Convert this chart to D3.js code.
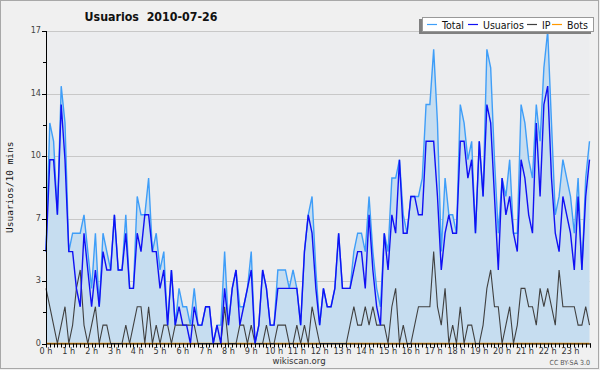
<!DOCTYPE html>
<html>
<head>
<meta charset="utf-8">
<script src="https://cdn.jsdelivr.net/npm/d3@7"></script>
<style>
  body { margin: 0; background: #f0f0f0; }
  svg { display: block; }
</style>
</head>
<body>
<div id="chart"></div>
<script>
// values per 10 minutes, 144 slots (0 h .. 23 h 50)
let total = [5,12,11,7,14,12,5,6,6,6, 7,5,3,6,2,6,5,4,7,4, 4,7,3,3,8,7,7,9,5,6,
             4,5,1,4,1,3,2,2,1,3, 1,1,2,2,0,1,1,5,1,3, 4,2,2,3,5,0,1,4,3,1,
             1,4,4,4,3,4,3,1,5,7, 8,4,1,3,2,2,3,6,3,3, 3,5,6,6,5,8,5,3,2,6,
             5,9,9,10,7,6,8,8,8,9, 13,13,16,12,5,9,7,7,6,13, 12,10,11,6,11,8,16,15,10,6,
             9,8,10,6,6,13,12,10,9,13, 11,15,17,12,7,8,10,9,8,6, 9,4,9,11]
let usuarios = [5,10,10,7,13,10,5,5,3,2, 6,4,2,4,2,5,4,4,7,4, 4,6,3,3,6,5,7,7,5,5,
                3,4,1,4,1,2,1,1,0,2, 1,1,2,2,0,1,0,3,1,3, 4,1,2,3,4,0,1,4,3,1,
                1,3,3,3,3,3,3,1,5,7, 6,3,1,3,2,2,3,6,3,3, 3,4,5,5,3,7,4,2,1,6,
                4,7,6,10,6,6,8,8,7,7, 11,11,11,8,4,6,7,6,6,11, 11,9,10,6,11,8,13,12,8,4,
                9,7,8,6,5,10,9,7,6,12, 8,13,14,9,6,5,8,7,6,4, 8,4,8,10]
let ip = [3,2,1,0,1,2,0,1,3,4, 1,0,1,2,0,1,1,0,0,0, 0,1,0,1,2,2,0,2,0,1,
          0,1,1,0,1,1,1,1,1,1, 0,0,0,0,0,0,0,2,0,0, 0,1,1,0,1,0,0,0,1,0,
          0,1,1,1,0,0,1,0,1,0, 2,1,0,0,0,0,0,0,0,0, 1,2,1,1,2,1,2,1,1,1,
          0,2,3,0,1,0,0,1,2,2, 2,2,5,2,1,3,0,1,0,2, 0,1,1,0,0,1,3,4,2,2,
          0,1,2,0,1,3,3,2,2,1, 3,2,3,2,1,4,2,2,2,2, 1,1,2,1]
let bots = total.map(() => 0)

let hourLabels = d3.range(24).map(h => h + ' h')
let yTicks = [0, 3.4, 6.8, 10.2, 13.6, 17]
let yTickLabels = ['0', '3', '7', '10', '14', '17']
let seriesNames = ['Total', 'Usuarios', 'IP', 'Bots']
let seriesColors = ['#3f9ef8', '#1010f4', '#404040', '#ff9900']

function makeChart(){
    let width = 600, height = 370
    let left = 46, right = 589.5, top = 31, bottom = 343.5

    let svg = d3.select('#chart')
                .append('svg')
                    .attr('width', width)
                    .attr('height', height)
                    .style('font-family', '"DejaVu Sans Condensed", "DejaVu Sans", sans-serif')

    // frame
    svg.append('rect')
        .attr('x', 0.5).attr('y', 0.5)
        .attr('width', 598).attr('height', 368)
        .attr('fill', '#f0f0f0')
        .attr('stroke', '#a8a8a8')

    svg.append('rect')
        .attr('x', left).attr('y', top)
        .attr('width', right - left).attr('height', bottom - top)
        .attr('fill', '#ecedef')

    let x = d3.scaleLinear().domain([0, total.length - 1]).range([left, right])
    let y = d3.scaleLinear().domain([0, 17]).range([bottom, top])

    // grid
    svg.append('g')
        .selectAll('line')
        .data(yTicks.slice(1))
        .enter()
        .append('line')
        .attr('x1', left).attr('x2', right)
        .attr('y1', d => Math.round(y(d)) + 0.5)
        .attr('y2', d => Math.round(y(d)) + 0.5)
        .attr('stroke', '#c8c8c8')

    // area under Total
    svg.append('path')
        .datum(total)
        .attr('fill', '#c6ddf0')
        .attr('d', d3.area().x((d, i) => x(i)).y0(bottom).y1(d => y(d)))

    let line = d3.line().x((d, i) => x(i)).y(d => y(d))
    let series = [total, usuarios, ip, bots]
    // draw order: bots, ip, total, usuarios
    ;[3, 2, 0, 1].forEach(k => {
        svg.append('path')
            .datum(series[k])
            .attr('fill', 'none')
            .attr('stroke', seriesColors[k])
            .attr('stroke-width', k == 2 ? 1.1 : 1.4)
            .attr('stroke-linejoin', 'miter')
            .attr('d', line)
    })

    // y axis
    let yAxis = svg.append('g').attr('transform', `translate(${left},0)`)
    yAxis.append('line')
        .attr('x1', 0.5).attr('x2', 0.5)
        .attr('y1', top).attr('y2', bottom + 1)
        .attr('stroke', '#000')
    let yMinor = d3.range(5).map(k => yTicks[k] + 1.7)
    yAxis.selectAll('.major')
        .data(yTicks)
        .enter()
        .append('line')
        .attr('x1', -4).attr('x2', 0.5)
        .attr('y1', d => Math.round(y(d)) + 0.5)
        .attr('y2', d => Math.round(y(d)) + 0.5)
        .attr('stroke', '#000')
    yAxis.selectAll('.minor')
        .data(yMinor)
        .enter()
        .append('line')
        .attr('x1', -3).attr('x2', 0.5)
        .attr('y1', d => Math.round(y(d)) + 0.5)
        .attr('y2', d => Math.round(y(d)) + 0.5)
        .attr('stroke', '#000')
    yAxis.selectAll('text')
        .data(yTicks)
        .enter()
        .append('text')
        .attr('x', -5)
        .attr('y', d => y(d) + 2)
        .attr('text-anchor', 'end')
        .attr('font-size', 9)
        .attr('fill', '#444')
        .text((d, i) => yTickLabels[i])

    svg.append('text')
        .attr('transform', `translate(13,${(top + bottom) / 2}) rotate(-90)`)
        .attr('text-anchor', 'middle')
        .attr('font-family', '"DejaVu Sans Mono", monospace')
        .attr('font-size', 9.5)
        .attr('fill', '#111')
        .text('Usuarios/10 mins')

    // x axis
    let xAxis = svg.append('g')
    xAxis.append('line')
        .attr('x1', left).attr('x2', right + 1)
        .attr('y1', bottom + 0.5).attr('y2', bottom + 0.5)
        .attr('stroke', '#000')
    xAxis.selectAll('.tick')
        .data(d3.range(total.length + 1))
        .enter()
        .append('line')
        .attr('x1', d => Math.round(Math.min(x(d), right)) + 0.5)
        .attr('x2', d => Math.round(Math.min(x(d), right)) + 0.5)
        .attr('y1', bottom)
        .attr('y2', bottom + 4)
        .attr('stroke', '#000')
    xAxis.selectAll('text')
        .data(hourLabels)
        .enter()
        .append('text')
        .attr('x', (d, h) => x(h * 6))
        .attr('y', bottom + 10)
        .attr('text-anchor', 'middle')
        .attr('font-size', 9)
        .attr('fill', '#333')
        .text(d => d)

    // title
    svg.append('text')
        .attr('x', 151).attr('y', 21)
        .attr('text-anchor', 'middle')
        .attr('font-weight', 'bold')
        .attr('font-size', 12.3)
        .attr('fill', '#111')
        .attr('xml:space', 'preserve')
        .style('white-space', 'pre')
        .text('Usuarios  2010-07-26')

    // legend
    let lg = svg.append('g')
    lg.append('rect')
        .attr('x', 419).attr('y', 19)
        .attr('width', 172).attr('height', 15)
        .attr('fill', '#808080')
    lg.append('rect')
        .attr('x', 422.5).attr('y', 17.5)
        .attr('width', 171).attr('height', 14)
        .attr('fill', '#fff')
        .attr('stroke', '#999')
    let itemX = [427, 468, 527, 552]
    seriesNames.forEach((name, k) => {
        lg.append('line')
            .attr('x1', itemX[k]).attr('x2', itemX[k] + 10)
            .attr('y1', 24.5).attr('y2', 24.5)
            .attr('stroke', seriesColors[k])
            .attr('stroke-width', 1.2)
        lg.append('text')
            .attr('x', itemX[k] + 15).attr('y', 28.5)
            .attr('font-size', 10.5)
            .attr('fill', '#111')
            .text(name)
    })

    // footer
    svg.append('text')
        .attr('x', 299).attr('y', 364)
        .attr('text-anchor', 'middle')
        .attr('font-size', 9.5)
        .attr('fill', '#333')
        .text('wikiscan.org')
    svg.append('text')
        .attr('x', 590).attr('y', 365)
        .attr('text-anchor', 'end')
        .attr('font-size', 7)
        .attr('fill', '#555')
        .text('CC BY-SA 3.0')
}

makeChart()
</script>
</body>
</html>
